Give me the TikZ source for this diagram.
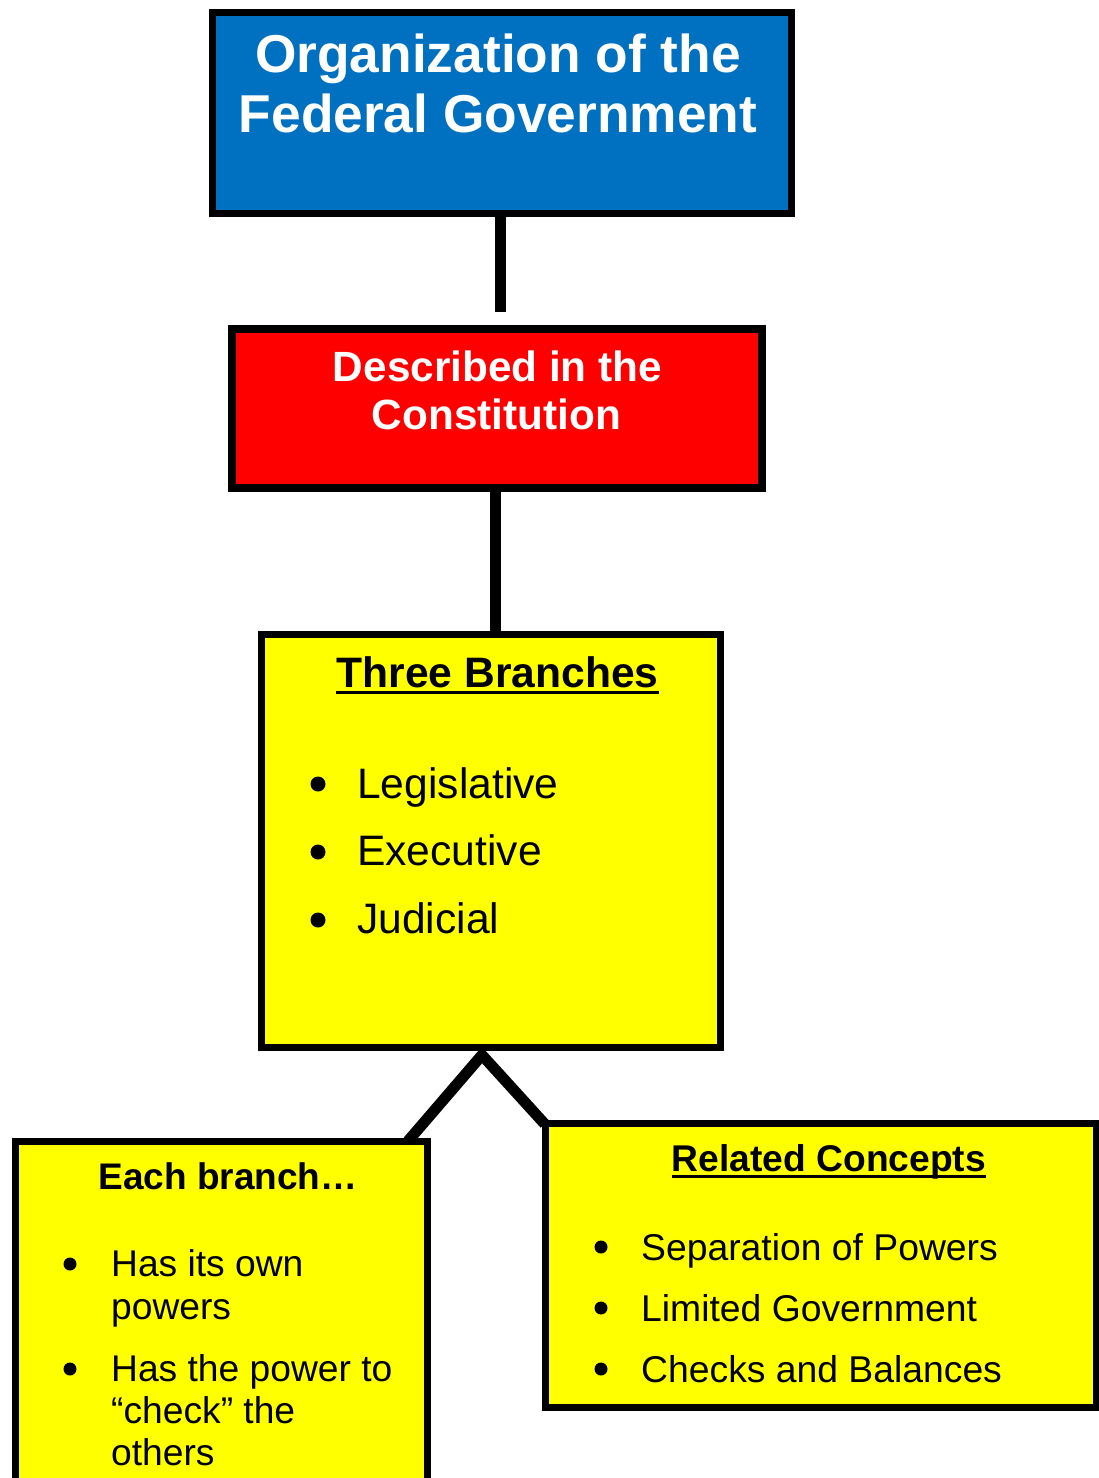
\documentclass[tikz,border=0pt]{standalone}
\usepackage{fontspec}
\setmainfont{Liberation Sans}
\usetikzlibrary{calc}

\definecolor{orgblue}{HTML}{0070C0}
\definecolor{conred}{HTML}{FF0000}
\definecolor{branchyellow}{HTML}{FFFF00}

\tikzset{
  box/.style={draw=black, line width=7pt, inner sep=0pt, rectangle},
  link/.style={draw=black, line width=11pt},
  label/.style={inner sep=0pt, anchor=base},
  entry/.style={inner sep=0pt, anchor=base west},
}

\begin{document}
\begin{tikzpicture}[x=1pt,y=-1pt]
  \useasboundingbox (0,0) rectangle (1099,1478);

  % the boxes
  \node[box, fill=orgblue, minimum width=579pt, minimum height=201pt] (org) at (502,113) {};
  \node[box, fill=conred, line width=8pt, minimum width=530pt, minimum height=159pt] (con) at (497,408.5) {};
  \node[box, fill=branchyellow, minimum width=459pt, minimum height=413pt] (branches) at (491,841) {};
  \node[box, fill=branchyellow, minimum width=412pt, minimum height=360pt] (each) at (221.5,1321.5) {};
  \node[box, fill=branchyellow, minimum width=551pt, minimum height=284pt] (related) at (820.75,1265.5) {};

  % connectors
  \draw[link, shorten >=13pt] ([xshift=-1.5pt]org.south) -- ([xshift=-1.5pt]org.south |- con.north);
  \draw[link] ([xshift=-2pt]con.south) -- ([xshift=-2pt]con.south |- branches.north);
  \coordinate (fork) at ($(branches.south)+(-9,4)$);
  \draw[link, line join=miter] ($(each.north east)+(-23,3)$) -- (fork) -- ($(related.north west)+(3,4)$);

  % title
  \node[label, text=white, font=\fontsize{53.3}{60}\selectfont\bfseries] (orgone) at (498,72) {Organization of the};
  \node[label, text=white, font=\fontsize{53.3}{60}\selectfont\bfseries] (orgtwo) at (498,132) {Federal Government};

  % constitution
  \node[label, text=white, font=\fontsize{42.3}{48}\selectfont\bfseries] (conone) at (497.5,381) {Described in the};
  \node[label, text=white, font=\fontsize{42.3}{48}\selectfont\bfseries] (contwo) at (496.5,429) {Constitution};

  % three branches
  \node[label, font=\fontsize{42.6}{50}\selectfont\bfseries] (three) at (497.5,687) {Three Branches};
  \draw[line width=3pt] ([yshift=-5pt]three.base west) -- ([yshift=-5pt]three.base east);
  \fill (318,784) circle (7.5);
  \node[entry, font=\fontsize{42.6}{50}\selectfont] (leg) at (357,798) {Legislative};
  \fill (318,852) circle (7.5);
  \node[entry, font=\fontsize{42.6}{50}\selectfont] (exe) at (357,865) {Executive};
  \fill (318,920) circle (7.5);
  \node[entry, font=\fontsize{42.6}{50}\selectfont] (jud) at (357,933) {Judicial};

  % each branch
  \node[label, font=\fontsize{37}{43}\selectfont\bfseries] (eachhead) at (228,1189) {Each branch…};
  \fill (70,1264) circle (6.5);
  \node[entry, font=\fontsize{37.2}{43}\selectfont] (ownone) at (111,1276) {Has its own};
  \node[entry, font=\fontsize{37.2}{43}\selectfont] (owntwo) at (111,1319) {powers};
  \fill (70,1369) circle (6.5);
  \node[entry, font=\fontsize{37.2}{43}\selectfont] (checkone) at (111,1381) {Has the power to};
  \node[entry, font=\fontsize{37.2}{43}\selectfont] (checktwo) at (111,1423) {“check” the};
  \node[entry, font=\fontsize{37.2}{43}\selectfont] (checkthree) at (111,1465) {others};

  % related concepts
  \node[label, font=\fontsize{37.2}{43}\selectfont\bfseries] (relhead) at (829,1171) {Related Concepts};
  \draw[line width=3pt] ([yshift=-5pt]relhead.base west) -- ([yshift=-5pt]relhead.base east);
  \fill (601,1247) circle (6.5);
  \node[entry, font=\fontsize{37.3}{43}\selectfont] (sep) at (641,1260) {Separation of Powers};
  \fill (601,1308) circle (6.5);
  \node[entry, font=\fontsize{37.3}{43}\selectfont] (lim) at (641,1321) {Limited Government};
  \fill (601,1369) circle (6.5);
  \node[entry, font=\fontsize{37.3}{43}\selectfont] (chk) at (641,1382) {Checks and Balances};
\end{tikzpicture}
\end{document}
